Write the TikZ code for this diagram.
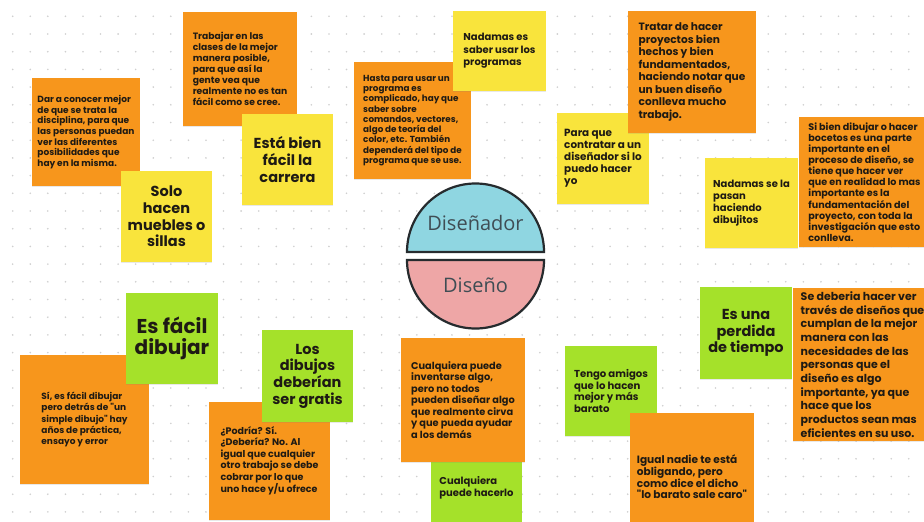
\documentclass[tikz,border=0pt]{standalone}
\usepackage{fontspec}
\setmainfont{Poppins}[Ligatures=TeXOff]
\newfontfamily\labelfont{Open Sans}
\usetikzlibrary{shadows}

\definecolor{noteorange}{HTML}{F7961C}
\definecolor{noteyellow}{HTML}{F9E43C}
\definecolor{notegreen}{HTML}{A5E12A}
\definecolor{notetext}{HTML}{1E1A14}
\definecolor{topcyan}{HTML}{8FD6E1}
\definecolor{botpink}{HTML}{EEA6A6}
\definecolor{domeline}{HTML}{262B2E}
\definecolor{domelabel}{HTML}{3F4D54}
\definecolor{griddot}{HTML}{CFCFCF}

\newcommand{\fs}[2]{\fontsize{#1}{#2}\selectfont}

\begin{document}
\begin{tikzpicture}[x=1pt, y=-1pt,
    note/.style={
        rectangle, inner sep=0pt, text=notetext, align=left,
        drop shadow={opacity=0.18, shadow xshift=0pt, shadow yshift=-1.2pt}
    },
    onote/.style={note, fill=noteorange},
    ynote/.style={note, fill=noteyellow},
    gnote/.style={note, fill=notegreen},
    bignote/.style={align=center, font=\bfseries\fs{14.5}{16.7}},
    half/.style={draw=domeline, line width=2.2pt},
    domelbl/.style={font=\labelfont\fs{20}{22}, text=domelabel}
]
\useasboundingbox (0,0) rectangle (924,522);
\clip (0,0) rectangle (924,522);
\fill[white] (0,0) rectangle (924,522);

% dotted board
\foreach \i in {0,...,52}
    \foreach \j in {0,...,29}
        \fill[griddot] (12.7+\i*17.57, 16.3+\j*17.7) circle (0.9pt);

% top left
\node[onote, minimum width=108pt, minimum height=108pt, font=\bfseries\fs{9}{10.7}] (dar) at (86,132)
    {Dar a conocer mejor\\de que se trata la\\disciplina, para que\\las personas puedan\\ver las diferentes\\posibilidades que\\hay en la misma.};
\node[ynote, bignote, minimum width=91pt, minimum height=91pt] (solo) at (166.5,216.5)
    {Solo\\hacen\\muebles o\\sillas};
\node[onote, minimum width=114pt, minimum height=114pt, font=\bfseries\fs{9.2}{11.1}] (trabajar) at (240,69)
    {Trabajar en las\\clases de la mejor\\manera posible,\\para que así la\\gente vea que\\realmente no es tan\\fácil como se cree.};
\node[ynote, bignote, minimum width=91pt, minimum height=91pt] (esta) at (287.5,159.5)
    {Está bien\\fácil la\\carrera};

% top middle
\node[onote, minimum width=117pt, minimum height=117pt, font=\bfseries\fs{8.8}{10.3}] (hasta) at (412.5,120.5)
    {Hasta para usar un\\programa es\\complicado, hay que\\saber sobre\\comandos, vectores,\\algo de teoría del\\color, etc. También\\dependerá del tipo de\\programa que se use.};
\node[ynote, minimum width=93pt, minimum height=80pt, font=\bfseries\fs{10}{12.5}] (nadamasprog) at (499.5,51)
    {Nadamas es\\saber usar los\\programas};

% top right
\node[ynote, minimum width=92pt, minimum height=91pt, font=\bfseries\fs{10.4}{11.9}] (paraque) at (603,158.5)
    {Para que\\contratar a un\\diseñador si lo\\puedo hacer\\yo};
\node[onote, minimum width=128pt, minimum height=122pt, font=\bfseries\fs{10.6}{12.5}] (tratar) at (692,72)
    {Tratar de hacer\\proyectos bien\\hechos y bien\\fundamentados,\\haciendo notar que\\un buen diseño\\conlleva mucho\\trabajo.};
\node[ynote, minimum width=93pt, minimum height=90pt, font=\bfseries\fs{10}{12.2}] (dibujitos) at (751.5,203)
    {Nadamas se la\\pasan\\haciendo\\dibujitos};
\node[onote, minimum width=131pt, minimum height=130pt, font=\bfseries\fs{9.6}{11.1}] (sibien) at (864.5,182)
    {Si bien dibujar o hacer\\bocetos es una parte\\importante en el\\proceso de diseño, se\\tiene que hacer ver\\que en realidad lo mas\\importante es la\\fundamentación del\\proyecto, con toda la\\investigación que esto\\conlleva.};

% bottom left
\node[onote, minimum width=129pt, minimum height=129pt, font=\bfseries\fs{9}{11.2}] (sies) at (84.5,419.5)
    {Sí, es fácil dibujar\\pero detrás de "un\\simple dibujo" hay\\años de práctica,\\ensayo y error};
\node[gnote, align=center, minimum width=92pt, minimum height=91pt, font=\bfseries\fs{20}{21.7}] (esfacil) at (172,338.5)
    {Es fácil\\dibujar};
\node[onote, minimum width=121pt, minimum height=118pt, font=\bfseries\fs{9.5}{11.5}] (podria) at (269.5,461)
    {¿Podría? Sí.\\¿Debería? No. Al\\igual que cualquier\\otro trabajo se debe\\cobrar por lo que\\uno hace y/u ofrece};
\node[gnote, bignote, minimum width=91pt, minimum height=92pt] (gratis) at (307.5,376)
    {Los\\dibujos\\deberían\\ser gratis};

% bottom middle
\node[gnote, minimum width=91pt, minimum height=96pt, font=\bfseries\fs{10}{12.3}] (hacerlo) at (476.5,488)
    {Cualquiera\\puede hacerlo};
\node[onote, minimum width=124pt, minimum height=124pt, font=\bfseries\fs{9.8}{11.5}] (inventar) at (463,400)
    {Cualquiera puede\\inventarse algo,\\pero no todos\\pueden diseñar algo\\que realmente cirva\\y que pueda ayudar\\a los demás};

% bottom right
\node[gnote, minimum width=92pt, minimum height=90pt, font=\bfseries\fs{10.1}{11.8}] (amigos) at (611,391)
    {Tengo amigos\\que lo hacen\\mejor y más\\barato};
\node[onote, minimum width=124pt, minimum height=128pt, font=\bfseries\fs{10.6}{11.7}] (barato) at (692,477)
    {Igual nadie te está\\obligando, pero\\como dice el dicho\\"lo barato sale caro"};
\node[gnote, bignote, minimum width=92pt, minimum height=92pt] (perdida) at (746,333)
    {Es una\\perdida\\de tiempo};
\node[onote, minimum width=139pt, minimum height=153pt, font=\bfseries\fs{11}{13.7}] (sedeberia) at (862.5,364.5)
    {Se deberia hacer ver\\través de diseños que\\cumplan de la mejor\\manera con las\\necesidades de las\\personas que el\\diseño es algo\\importante, ya que\\hace que los\\productos sean mas\\eficientes en su uso.};

% centre
\draw[half, fill=topcyan] (407,252) arc (180:0:68.5pt) -- cycle;
\draw[half, fill=botpink] (407,260) arc (180:360:68.5pt) -- cycle;
\node[domelbl] (disenador) at (475.5,223) {Diseñador};
\node[domelbl] (diseno) at (475.5,285) {Diseño};

\end{tikzpicture}
\end{document}
